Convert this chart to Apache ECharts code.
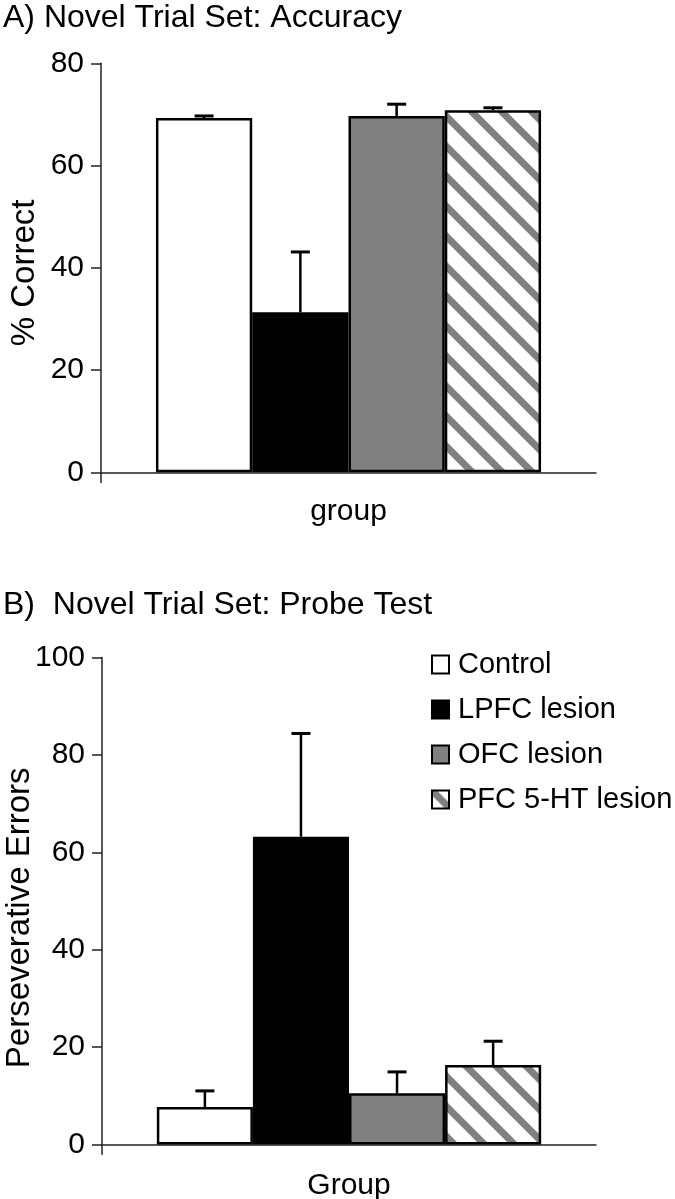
<!DOCTYPE html>
<html>
<head>
<meta charset="utf-8">
<script src="https://cdn.jsdelivr.net/npm/echarts@6/dist/echarts.min.js"></script>
<style>
html,body{margin:0;padding:0;background:#fff;}
#chart{width:675px;height:1199px;}
</style>
</head>
<body>
<div id="chart"></div>
<script>
// ---- data ----
const groupNames = ['Control', 'LPFC lesion', 'OFC lesion', 'PFC 5-HT lesion'];
const accuracyMean = [69.3, 31.3, 69.7, 70.8];
const accuracyUpper = [69.7, 43.1, 72.0, 71.3];
const probeMean = [7.7, 63.2, 10.5, 16.3];
const probeUpper = [11.0, 84.4, 14.9, 21.2];
const accuracyTicks = [0, 20, 40, 60, 80];
const probeTicks = [0, 20, 40, 60, 80, 100];

// ---- styles ----
const FONT = '"Liberation Sans", Arial, Helvetica, sans-serif';
function makeHatch() {
  const P = 30;
  const c = document.createElement('canvas');
  c.width = P; c.height = P;
  const g = c.getContext('2d');
  g.fillStyle = '#ffffff';
  g.fillRect(0, 0, P, P);
  g.strokeStyle = '#808080';
  g.lineWidth = 7;
  g.beginPath();
  g.moveTo(-P, 0); g.lineTo(P, 2 * P);
  g.moveTo(0, 0); g.lineTo(P, P);
  g.moveTo(0, -P); g.lineTo(2 * P, P);
  g.stroke();
  return c;
}
const hatch = makeHatch();
const fills = ['#ffffff', '#000000', '#808080', { image: hatch, repeat: 'repeat' }];
const CAT_GAP = 0.222;

function barSeries(xi, yi, values) {
  return values.map((v, i) => ({
    type: 'bar',
    name: groupNames[i],
    xAxisIndex: xi,
    yAxisIndex: yi,
    data: [v],
    barGap: '0%',
    barCategoryGap: (CAT_GAP * 100) + '%',
    itemStyle: { color: fills[i], borderColor: '#000', borderWidth: 2.5 },
    emphasis: { disabled: true },
    silent: true,
    z: 2
  }));
}

function errorSeries(xi, yi, means, uppers) {
  return {
    type: 'custom',
    xAxisIndex: xi,
    yAxisIndex: yi,
    silent: true,
    z: 3,
    data: means.map((m, i) => [0, m, uppers[i], i]),
    encode: { x: 0, y: [1, 2] },
    renderItem: function (params, api) {
      const idx = api.value(3);
      const center = api.coord([0, 0])[0];
      const bandW = api.size([1, 0])[0];
      const barsW = bandW * (1 - CAT_GAP);
      const barW = barsW / means.length;
      const x = center - barsW / 2 + barW * (idx + 0.5);
      const yTop = api.coord([0, api.value(1)])[1];
      const yErr = api.coord([0, api.value(2)])[1];
      const capHalf = 9.5;
      return {
        type: 'group',
        children: [
          { type: 'line', shape: { x1: x, y1: yTop, x2: x, y2: yErr }, style: { stroke: '#000', lineWidth: 2.5 } },
          { type: 'line', shape: { x1: x - capHalf, y1: yErr, x2: x + capHalf, y2: yErr }, style: { stroke: '#000', lineWidth: 3 } }
        ]
      };
    }
  };
}

function valueAxis(gi, maxV, ticks, name, gap, pad) {
  return {
    type: 'value',
    gridIndex: gi,
    min: -2,
    max: maxV,
    name: name,
    nameLocation: 'middle',
    nameGap: gap,
    nameMoveOverlap: false,
    nameTextStyle: { fontFamily: FONT, fontSize: 33, color: '#000', padding: pad },
    axisLine: { show: true, lineStyle: { color: '#222', width: 1.5 } },
    axisTick: { show: true, length: 10, customValues: ticks, lineStyle: { color: '#222', width: 1.5 } },
    axisLabel: { customValues: ticks, fontFamily: FONT, fontSize: 30, color: '#000', margin: 17 },
    splitLine: { show: false }
  };
}

function catAxis(gi, name, gap) {
  return {
    type: 'category',
    gridIndex: gi,
    data: ['g'],
    name: name,
    nameLocation: 'middle',
    nameGap: gap,
    nameTextStyle: { fontFamily: FONT, fontSize: 30, color: '#000' },
    axisLine: { show: true, onZero: true, lineStyle: { color: '#222', width: 1.5 } },
    axisTick: { show: false },
    axisLabel: { show: false },
    splitLine: { show: false }
  };
}

const chart = echarts.init(document.getElementById('chart'), null, { renderer: 'canvas' });
chart.setOption({
  backgroundColor: '#ffffff',
  animation: false,
  title: [
    { text: 'A) Novel Trial Set: Accuracy', left: -2, top: -3, textStyle: { fontFamily: FONT, fontSize: 32, fontWeight: 'normal', color: '#000' } },
    { text: 'B)  Novel Trial Set: Probe Test', left: -2, top: 584, textStyle: { fontFamily: FONT, fontSize: 32, fontWeight: 'normal', color: '#000' } }
  ],
  legend: {
    data: groupNames,
    orient: 'vertical',
    left: 426,
    top: 645,
    icon: 'rect',
    itemWidth: 17,
    itemHeight: 18,
    itemGap: 16,
    selectedMode: false,
    textStyle: { fontFamily: FONT, fontSize: 29, color: '#000', padding: [0, 0, 0, 4] }
  },
  grid: [
    { left: 101, right: 79, top: 63.3, bottom: 716.5, containLabel: false, outerBoundsMode: 'none' },
    { left: 102, right: 79, top: 657.5, bottom: 44.8, containLabel: false, outerBoundsMode: 'none' }
  ],
  xAxis: [catAxis(0, 'group', 14), catAxis(1, 'Group', 17)],
  yAxis: [
    valueAxis(0, 80, accuracyTicks, '% Correct', 60, 0),
    valueAxis(1, 100, probeTicks, 'Perseverative Errors', 66, [0, 24, 0, 0])
  ],
  series: [].concat(
    barSeries(0, 0, accuracyMean),
    [errorSeries(0, 0, accuracyMean, accuracyUpper)],
    barSeries(1, 1, probeMean),
    [errorSeries(1, 1, probeMean, probeUpper)]
  )
});
</script>
</body>
</html>
